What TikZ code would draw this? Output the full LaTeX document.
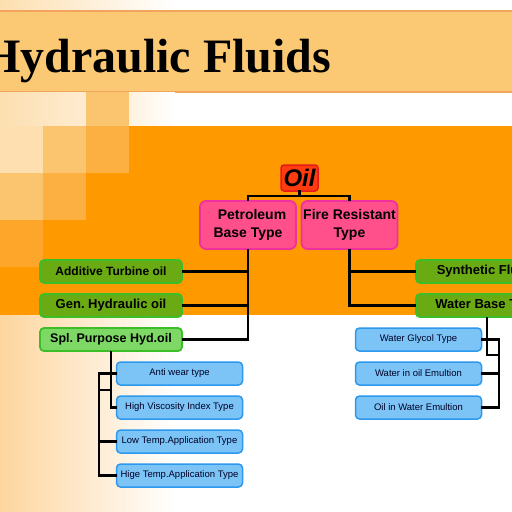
\documentclass[tikz,border=0pt]{standalone}
\usepackage{fontspec}
\setmainfont{Liberation Sans}
\newfontfamily\titlefont{Liberation Serif}
\frenchspacing

\definecolor{bandorange}{HTML}{FF9900}
\definecolor{titlefill}{HTML}{FBC974}
\definecolor{titleedge}{HTML}{F2A35E}
\definecolor{peach}{HTML}{FDDFB0}
\definecolor{sqmid}{HTML}{FBC46E}
\definecolor{sqdark}{HTML}{FCB042}
\definecolor{sqdeep}{HTML}{FDA62A}
\definecolor{oilfill}{HTML}{FF3C10}
\definecolor{oiledge}{HTML}{E61A1A}
\definecolor{pinkfill}{HTML}{FF508C}
\definecolor{pinkedge}{HTML}{F0309E}
\definecolor{greenfill}{HTML}{6AAA12}
\definecolor{greenedge}{HTML}{3CBE28}
\definecolor{lightgreen}{HTML}{7ED866}
\definecolor{bluefill}{HTML}{7CC4F6}
\definecolor{blueedge}{HTML}{2C98EE}

\begin{document}
\begin{tikzpicture}[x=1pt,y=-1pt,
  oilbox/.style={draw=oiledge,fill=oilfill,line width=1.5pt,rounded corners=3pt,
    minimum width=37pt,minimum height=26pt,inner sep=1pt,
    font=\bfseries\itshape\fontsize{24}{24}\selectfont},
  typebox/.style={draw=pinkedge,fill=pinkfill,line width=1.8pt,rounded corners=6pt,
    minimum width=96pt,minimum height=48pt,inner sep=1pt,align=center,
    font=\bfseries\fontsize{14}{18}\selectfont},
  oilgroup/.style={draw=greenedge,fill=greenfill,line width=1.8pt,rounded corners=4pt,
    minimum width=142pt,minimum height=23pt,inner sep=1pt,
    font=\bfseries\fontsize{13}{13}\selectfont},
  subtype/.style={draw=blueedge,fill=bluefill,line width=1.5pt,rounded corners=4pt,
    minimum width=126pt,minimum height=23pt,inner sep=1pt,text=black!85!blue,
    font=\fontsize{9.5}{9.5}\selectfont},
  link/.style={line width=2.6pt,line cap=rect}]

  % page and background
  \clip (0,0) rectangle (512,512);
  \fill[white] (0,0) rectangle (512,512);
  \shade[left color=peach,right color=white] (0,0) rectangle (175,11);
  \fill[titlefill] (0,11) rectangle (512,92);
  \draw[titleedge,line width=1.2pt] (0,11) -- (512,11);
  \draw[titleedge,line width=1.2pt] (0,92) -- (512,92);
  \shade[left color=peach,right color=peach!60!white] (0,92) rectangle (86,126);
  \fill[sqmid] (86,92) rectangle (129,126);
  \shade[left color=peach!40!white,right color=white] (129,92) rectangle (175,126);
  \shade[left color=peach!90!orange,right color=white] (0,315) rectangle (175,512);
  \fill[bandorange] (0,126) rectangle (512,315);
  \fill[peach] (0,126) rectangle (43,173);
  \fill[sqmid] (43,126) rectangle (86,173);
  \fill[sqdark] (86,126) rectangle (129,173);
  \fill[sqmid] (0,173) rectangle (43,220);
  \fill[sqdark] (43,173) rectangle (86,220);
  \fill[sqdeep] (0,220) rectangle (43,267);

  % title
  \node[anchor=base west,inner sep=0pt,font=\titlefont\bfseries\fontsize{48}{48}\selectfont]
    (title) at (-17,72) {Hydraulic Fluids};

  % top of the tree
  \node[oilbox] (oil) at (299.5,178) {Oil};
  \node[typebox] (petro) at (248,225) {\hspace*{8pt}Petroleum\\Base Type};
  \node[typebox] (fire) at (349.5,225) {Fire Resistant\\Type};

  % oil groups
  \node[oilgroup,font=\bfseries\fontsize{12}{12}\selectfont] (addt) at (111,271.5) {Additive Turbine oil};
  \node[oilgroup] (genh) at (111,305.5) {Gen. Hydraulic oil};
  \node[oilgroup,fill=lightgreen,font=\bfseries\fontsize{12.5}{12.5}\selectfont] (splp) at (111,339.5) {Spl. Purpose Hyd.oil};
  \node[oilgroup] (synth) at (487,271.5) {Synthetic Fluids};
  \node[oilgroup] (water) at (487,305.5) {Water Base Type};

  % sub types
  \node[subtype] (anti) at (179.5,373.5) {Anti wear type};
  \node[subtype] (highv) at (179.5,407.5) {High Viscosity Index Type};
  \node[subtype] (lowt) at (179.5,441.5) {Low Temp.Application Type};
  \node[subtype] (higet) at (179.5,475.5) {Hige Temp.Application Type};
  \node[subtype] (glyc) at (418.5,339.5) {Water Glycol Type};
  \node[subtype] (wio) at (418.5,373.5) {Water in oil Emultion};
  \node[subtype] (oiw) at (418.5,407.5) {Oil in Water Emultion};

  % junction points
  \coordinate (oilbus) at (299.5,196);
  \coordinate (ltop) at (99,373.5);
  \coordinate (lbot) at (99,475.5);
  \coordinate (ljoin) at (99,390);
  \coordinate (rtop) at (499,339.5);
  \coordinate (rbot) at (499,407.5);
  \coordinate (rjoin) at (499,355);

  % connectors
  \draw[link] (oil.south) -- (oilbus);
  \draw[link] (petro.north) |- (oilbus) -| (fire.north);
  \draw[link] (petro.south) |- (splp.east);
  \draw[link] (addt.east) -| (petro.south);
  \draw[link] (genh.east) -| (petro.south);
  \draw[link] (fire.south) |- (water.west);
  \draw[link] (synth.west) -| (fire.south);
  \draw[link] (splp.south) |- (highv.west);
  \draw[link] (anti.west) -- (ltop) -- (lbot) -- (higet.west);
  \draw[link] (lowt.west) -- (lowt.west -| ltop);
  \draw[link] (ljoin) -- (ljoin -| splp.south);
  \draw[link] (glyc.east) -- (rtop) -- (rbot) -- (oiw.east);
  \draw[link] (wio.east) -- (wio.east -| rtop);
  \draw[link] (water.south) |- (rjoin);
\end{tikzpicture}
\end{document}
